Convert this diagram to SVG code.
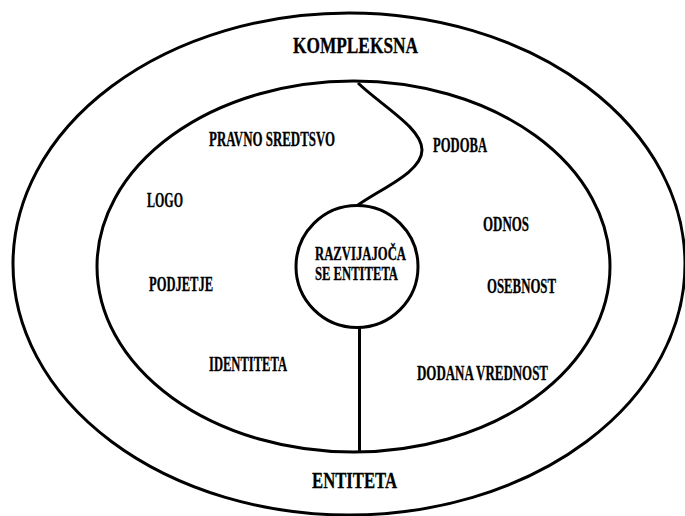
<svg xmlns="http://www.w3.org/2000/svg" width="685" height="516" viewBox="0 0 685 516">
<style>
.shape{fill:none;stroke:#000;stroke-width:3}
.t{font-family:"Liberation Serif","Times New Roman",serif;font-weight:bold;fill:#000;font-size:20px;stroke:#000;stroke-width:0.3}
.big{font-size:23px}
.core{font-size:18px}
</style>
<rect width="685" height="516" fill="#fff"/>
<g id="outer">
<ellipse class="shape" cx="349" cy="264" rx="336" ry="251"/>
<text class="t big" x="293" y="53" textLength="125" lengthAdjust="spacingAndGlyphs">KOMPLEKSNA</text>
<text class="t big" x="312" y="488" textLength="85" lengthAdjust="spacingAndGlyphs">ENTITETA</text>
</g>
<g id="inner">
<ellipse class="shape" cx="353.5" cy="266.5" rx="256.5" ry="185.5"/>
<text class="t" x="209" y="146" textLength="126" lengthAdjust="spacingAndGlyphs">PRAVNO SREDTSVO</text>
<text class="t" x="147" y="207" textLength="36" lengthAdjust="spacingAndGlyphs">LOGO</text>
<text class="t" x="149" y="291" textLength="64" lengthAdjust="spacingAndGlyphs">PODJETJE</text>
<text class="t" x="209" y="371" textLength="78" lengthAdjust="spacingAndGlyphs">IDENTITETA</text>
<text class="t" x="433" y="151.5" textLength="54" lengthAdjust="spacingAndGlyphs">PODOBA</text>
<text class="t" x="483" y="231" textLength="46" lengthAdjust="spacingAndGlyphs">ODNOS</text>
<text class="t" x="487" y="293" textLength="69" lengthAdjust="spacingAndGlyphs">OSEBNOST</text>
<text class="t" x="417" y="380" textLength="131" lengthAdjust="spacingAndGlyphs">DODANA VREDNOST</text>
</g>
<g id="core">
<circle class="shape" cx="357" cy="266.5" r="61"/>
<text class="t core" x="315" y="260" textLength="91" lengthAdjust="spacingAndGlyphs">RAZVIJAJOČA</text>
<text class="t core" x="315" y="279.5" textLength="83" lengthAdjust="spacingAndGlyphs">SE ENTITETA</text>
</g>
<g id="connectors">
<path class="shape" d="M358,83 C382,106 422,128 422,150 C422,172 382,188 358,205"/>
<line class="shape" x1="359.5" y1="327" x2="359.5" y2="452"/>
</g>
</svg>
